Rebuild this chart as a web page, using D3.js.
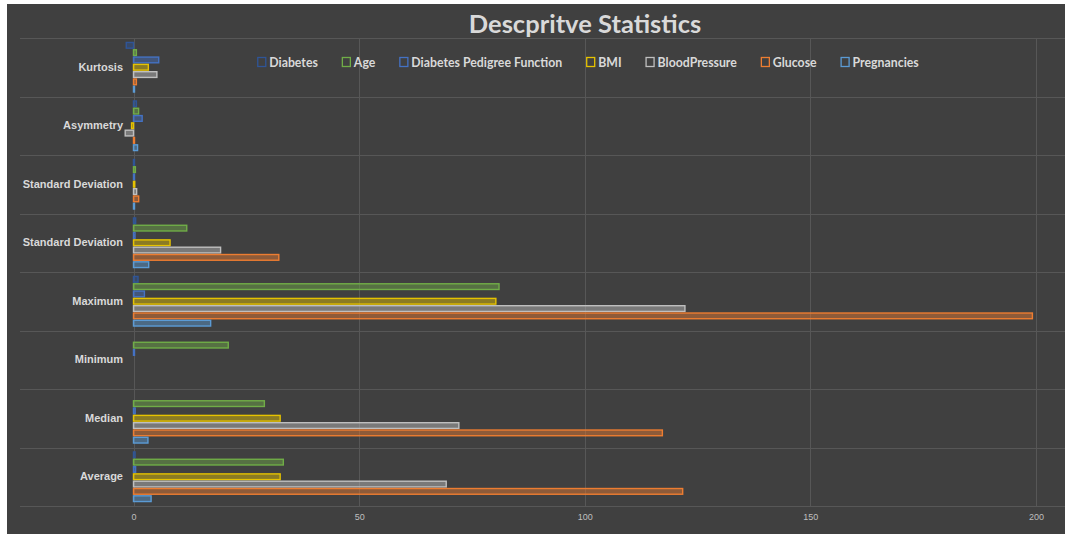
<!DOCTYPE html>
<html>
<head>
<meta charset="utf-8">
<script src="https://cdn.jsdelivr.net/npm/d3@7"></script>
<style>
  body { margin: 0; background: #ffffff; }
  svg { display: block; font-family: Lato, "Open Sans", sans-serif; }
</style>
</head>
<body>
<svg id="chart" width="1065" height="534"></svg>
<script>
// categories, top to bottom as drawn
const categories = ["Kurtosis", "Asymmetry", "Standard Deviation", "Standard Deviation",
  "Maximum", "Minimum", "Median", "Average"];

// series, top to bottom within each group (same as legend order)
const seriesNames = ["Diabetes", "Age", "Diabetes Pedigree Function", "BMI",
  "BloodPressure", "Glucose", "Pregnancies"];
const seriesColors = ["#2f5597", "#70ad47", "#4472c4", "#e6c300", "#bfbfbf", "#ed7d31", "#5b9bd5"];

// values per series, in category order
const diabetes      = [-1.60, 0.64, 0.017, 0.48, 1, 0, 0, 0.35];
const age           = [0.64, 1.13, 0.42, 11.8, 81, 21, 29, 33.2];
const pedigree      = [5.59, 1.92, 0.012, 0.33, 2.42, 0.078, 0.37, 0.47];
const bmi           = [3.29, -0.43, 0.28, 8.1, 80.3, 0, 32.5, 32.5];
const bloodPressure = [5.18, -1.84, 0.70, 19.3, 122.2, 0, 72.1, 69.3];
const glucose       = [0.64, 0.17, 1.15, 32.2, 199.2, 0, 117.2, 121.7];
const pregnancies   = [0.16, 0.90, 0.12, 3.37, 17.1, 0, 3.2, 3.9];
const seriesValues = [diabetes, age, pedigree, bmi, bloodPressure, glucose, pregnancies];

const xTicks = [0, 50, 100, 150, 200];

const svg = d3.select("#chart");
const textColor = "#d9d9d9";
const gridColor = "#575757";

// dark chart area
svg.append("rect")
  .attr("x", 7).attr("y", 4)
  .attr("width", 1058).attr("height", 530)
  .attr("fill", "#404040");

// scales
const x = d3.scaleLinear().domain([0, 200]).range([133.5, 1036]);
const y = d3.scaleBand()
  .domain(categories.map((d, i) => i))
  .range([38, 506])
  .padding(0);
const yInner = d3.scaleBand()
  .domain(seriesNames)
  .range([0, y.bandwidth()])
  .paddingInner(0)
  .paddingOuter(0.5);

// horizontal gridlines (band boundaries)
const bounds = categories.map((d, i) => y(i)).concat([y.range()[1]]);
svg.append("g")
  .selectAll("line")
  .data(bounds)
  .join("line")
  .attr("x1", 20).attr("x2", 1065)
  .attr("y1", (d) => Math.round(d) + 0.5)
  .attr("y2", (d) => Math.round(d) + 0.5)
  .attr("stroke", gridColor)
  .attr("stroke-width", 1);

// vertical gridlines
svg.append("g")
  .selectAll("line")
  .data(xTicks)
  .join("line")
  .attr("x1", (d) => Math.round(x(d)) + 0.5)
  .attr("x2", (d) => Math.round(x(d)) + 0.5)
  .attr("y1", 38).attr("y2", 506)
  .attr("stroke", gridColor)
  .attr("stroke-width", 1);

// x axis labels
const xAxis = svg.append("g")
  .attr("transform", "translate(0, 506)")
  .call(d3.axisBottom(x).tickValues(xTicks).tickSize(0).tickPadding(8));
xAxis.select(".domain").remove();
xAxis.selectAll("text")
  .attr("fill", "#bfbfbf")
  .style("font-size", "9px");

// y axis labels
const yAxis = svg.append("g")
  .attr("transform", "translate(133, 0)")
  .call(d3.axisLeft(y).tickSize(0).tickPadding(10).tickFormat((i) => categories[i]));
yAxis.select(".domain").remove();
yAxis.selectAll("text")
  .attr("fill", textColor)
  .style("font-size", "11px")
  .style("font-weight", "bold");

// bars
const barData = [];
categories.forEach((c, i) => {
  seriesNames.forEach((s, j) => {
    const v = seriesValues[j][i];
    if (v !== 0) barData.push({ cat: i, series: s, color: seriesColors[j], v: v });
  });
});

svg.append("g")
  .selectAll("rect")
  .data(barData)
  .join("rect")
  .attr("x", (d) => Math.min(x(0), x(d.v)))
  .attr("y", (d) => y(d.cat) + yInner(d.series) + 0.8)
  .attr("width", (d) => Math.max(1, Math.abs(x(d.v) - x(0))))
  .attr("height", yInner.bandwidth() - 1.6)
  .attr("fill", (d) => d.color)
  .attr("fill-opacity", 0.45)
  .attr("stroke", (d) => d.color)
  .attr("stroke-width", 1.4);

// title
svg.append("text")
  .attr("x", 585)
  .attr("y", 33)
  .attr("text-anchor", "middle")
  .attr("fill", textColor)
  .style("font-size", "25.5px")
  .style("font-weight", "bold")
  .text("Descpritve Statistics");

// legend
const legend = svg.append("g");
let lx = 0;
const legendGap = 24;
seriesNames.forEach((s, j) => {
  const item = legend.append("g").attr("transform", `translate(${lx}, 0)`);
  item.append("rect")
    .attr("x", 0.5).attr("y", -9.5)
    .attr("width", 8).attr("height", 9)
    .attr("fill", "none")
    .attr("stroke", seriesColors[j])
    .attr("stroke-width", 1.3);
  const t = item.append("text")
    .attr("x", 12).attr("y", 0)
    .attr("fill", textColor)
    .style("font-size", "12.3px")
    .style("font-weight", "bold")
    .text(s);
  lx += 12 + t.node().getComputedTextLength() + legendGap;
});
const legendWidth = lx - legendGap;
legend.attr("transform", `translate(${588 - legendWidth / 2}, 67)`);
</script>
</body>
</html>
